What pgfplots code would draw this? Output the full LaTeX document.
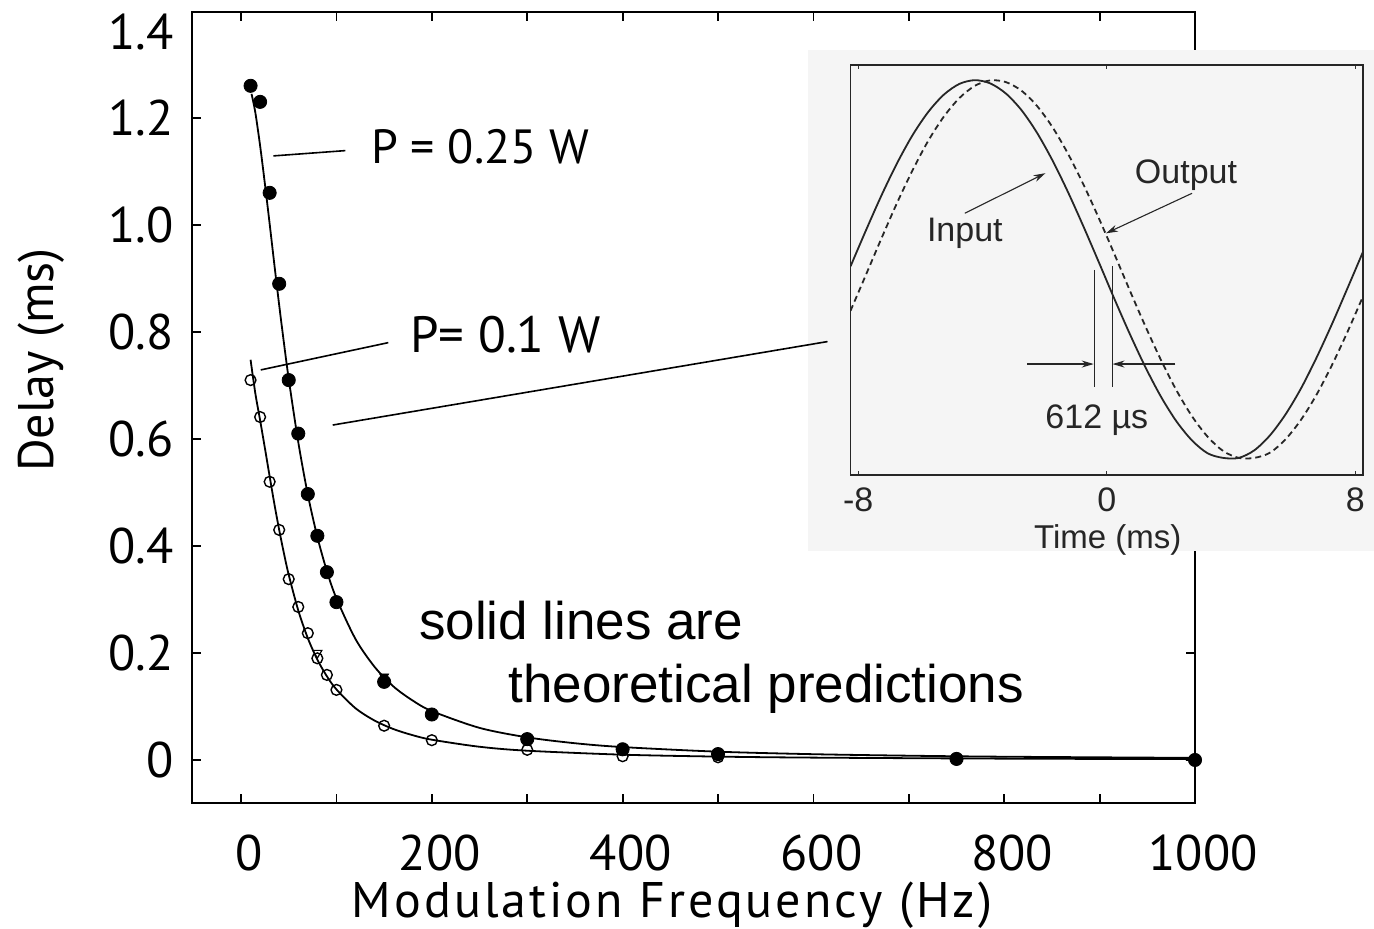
\documentclass[border=0pt]{standalone}
\usepackage{fontspec}
\setmainfont{PT Sans}
\newfontfamily\helv{Liberation Sans}
\usepackage{pgfplots}
\pgfplotsset{compat=1.18}
\usetikzlibrary{arrows.meta}

\begin{document}
\begin{tikzpicture}
\path[use as bounding box] (0pt,0pt) rectangle (687pt,464.5pt);
% main plot
\begin{axis}[
  at={(96pt,63pt)}, anchor=south west, scale only axis,
  width=501.5pt, height=395.5pt,
  xmin=-51.4, xmax=1000, ymin=-0.0804, ymax=1.398,
  axis line style={line width=1pt},
  every tick/.style={black, line width=0.9pt},
  tick align=inside, major tick length=4.5pt, minor tick length=4.5pt,
  xtick={0,200,400,600,800,1000}, minor xtick={100,300,500,700,900},
  xticklabels={0,200,400,600,800,1000},
  ytick={0,0.2,0.4,0.6,0.8,1.0,1.2},
  yticklabels={0,0.2,0.4,0.6,0.8,1.0,1.2},
  extra y ticks={1.36}, extra y tick labels={1.4},
  extra y tick style={major tick length=0pt},
  tick label style={font=\fontsize{25}{30}\selectfont, inner sep=0pt},
  xticklabel style={xshift=4pt},
  yticklabel shift=9pt, xticklabel shift=16pt,
  xlabel={\addfontfeatures{LetterSpace=6}Modulation Frequency (Hz)}, ylabel={Delay (ms)},
  label style={font=\fontsize{25}{30}\selectfont},
  xlabel style={at={(axis description cs:0.4786,-0.129)}, anchor=center},
  ylabel style={at={(axis description cs:-0.1505,0.560)}, anchor=center},
]
% theory, P = 0.25 W
\addplot[smooth, line width=0.9pt, no marks] coordinates {
(11,1.245)(15,1.21)(20,1.148)(25,1.077)(30,1.002)(35,0.925)(40,0.850)(45,0.779)
(50,0.712)(60,0.594)(70,0.496)(80,0.417)(90,0.353)(100,0.302)(120,0.226)(140,0.174)
(160,0.137)(180,0.111)(200,0.0914)(250,0.060)(300,0.0423)(350,0.0313)(400,0.0241)
(500,0.0155)(600,0.0108)(700,0.0080)(800,0.0061)(1000,0.0039)};
% theory, P = 0.1 W
\addplot[smooth, line width=0.9pt, no marks] coordinates {
(10,0.748)(15,0.685)(20,0.635)(25,0.583)(30,0.530)(35,0.478)(40,0.430)(45,0.386)
(50,0.346)(60,0.2795)(70,0.2277)(80,0.1876)(90,0.1564)(100,0.1319)(120,0.0967)
(140,0.0736)(160,0.0576)(180,0.0463)(200,0.0379)(250,0.0247)(300,0.0173)(400,0.0099)
(500,0.0063)(600,0.0044)(800,0.0025)(1000,0.0016)};
% measured, P = 0.1 W
\addplot[only marks, mark=o, mark size=2.7pt, mark options={line width=0.7pt}] coordinates {
(10,0.71)(20,0.641)(30,0.52)(40,0.43)(50,0.338)(60,0.286)(70,0.237)(80,0.19)(90,0.159)
(100,0.131)(150,0.064)(200,0.037)(300,0.019)(400,0.007)(500,0.005)(750,0.001)(1000,0.0)};
% measured, P = 0.25 W
\addplot[only marks, mark=*, mark size=3.3pt] coordinates {
(10,1.26)(20,1.23)(30,1.06)(40,0.89)(50,0.71)(60,0.61)(70,0.497)(80,0.419)(90,0.351)
(100,0.295)(150,0.146)(200,0.085)(300,0.039)(400,0.020)(500,0.011)(750,0.002)(1000,0.0)};
% triangles
\addplot[only marks, mark=triangle, mark size=2.6pt, mark options={rotate=180, line width=0.6pt}] coordinates {(80,0.2)};
\addplot[only marks, mark=triangle*, mark size=2.6pt, mark options={rotate=180}] coordinates {(150,0.156)};

\draw[line width=0.8pt] (axis cs:33.9,1.129) -- (axis cs:109.4,1.1389);
\draw[line width=0.8pt] (axis cs:20.6,0.729) -- (axis cs:154.4,0.780);
\coordinate (la) at (axis cs:96.1,0.626);
\coordinate (lb) at (axis cs:614.8,0.782);
\node[anchor=base west, inner sep=0pt, font=\fontsize{24}{28}\selectfont] at (axis cs:136,1.1153) {P = 0.25 W};
\node[anchor=base west, inner sep=0pt, font=\fontsize{25.5}{30}\selectfont] at (axis cs:177.1,0.7607) {P= 0.1 W};
\node[anchor=base west, inner sep=0pt, font=\helv\fontsize{26.5}{30}\selectfont] at (axis cs:186.3,0.2243) {solid lines are};
\node[anchor=base west, inner sep=0pt, font=\helv\fontsize{26.5}{30}\selectfont] at (axis cs:279.9,0.1065) {theoretical predictions};
\end{axis}

% inset background
\fill[black!4] (404pt,189pt) rectangle (687pt,439.5pt);
\draw[line width=0.8pt] (la) -- (lb);

\begin{axis}[
  at={(425.25pt,227pt)}, anchor=south west, scale only axis,
  width=256.25pt, height=205pt,
  xmin=-8.25, xmax=8.25, ymin=-1.08, ymax=1.08,
  axis line style={line width=0.9pt, black!85},
  every tick/.style={black!80, line width=0.6pt},
  xtick={-8,0,8}, xticklabels={-8,0,8}, ytick=\empty,
  tick align=inside, major tick length=2pt,
  tick label style={font=\helv\fontsize{17}{20}\selectfont, inner sep=0pt, text=black!85},
  xticklabel shift=6pt,
  xlabel={Time (ms)},
  xlabel style={font=\helv\fontsize{16.5}{20}\selectfont, text=black!85, at={(axis description cs:0.502,-0.1585)}, anchor=center},
]
% input
\addplot[smooth, no marks, line width=0.9pt, black!85] coordinates {
(-8.25,0.019)(-7.75,0.210)(-7.25,0.394)(-6.75,0.563)(-6.25,0.711)(-5.75,0.832)
(-5.25,0.923)(-4.75,0.980)(-4.25,1.000)(-3.75,0.983)(-3.25,0.930)(-2.75,0.843)
(-2.25,0.724)(-1.75,0.578)(-1.25,0.411)(-0.75,0.229)(-0.25,0.039)(0.25,-0.154)
(0.75,-0.340)(1.25,-0.514)(1.75,-0.669)(2.25,-0.799)(2.75,-0.899)(3.25,-0.966)
(3.75,-0.990)(4.25,-0.990)(4.75,-0.950)(5.25,-0.872)(5.75,-0.762)(6.25,-0.625)
(6.75,-0.463)(7.25,-0.285)(7.75,-0.096)(8.25,0.096)};
% output
\addplot[smooth, no marks, line width=0.9pt, black!85, dash pattern=on 3pt off 2pt] coordinates {
(-8.25,-0.215)(-7.75,-0.024)(-7.25,0.168)(-6.75,0.354)(-6.25,0.526)(-5.75,0.680)
(-5.25,0.807)(-4.75,0.905)(-4.25,0.970)(-3.75,0.999)(-3.25,0.990)(-2.75,0.945)
(-2.25,0.865)(-1.75,0.753)(-1.25,0.613)(-0.75,0.450)(-0.25,0.271)(0.25,0.082)
(0.75,-0.111)(1.25,-0.299)(1.75,-0.476)(2.25,-0.636)(2.75,-0.772)(3.25,-0.879)
(3.75,-0.954)(4.25,-0.990)(4.75,-0.990)(5.25,-0.963)(5.75,-0.893)(6.25,-0.790)
(6.75,-0.658)(7.25,-0.501)(7.75,-0.326)(8.25,-0.139)};
\draw[black!85, line width=0.55pt, -{Stealth[length=6pt,width=3.5pt]}] (axis cs:-4.57,0.299) -- (axis cs:-1.975,0.51);
\draw[black!85, line width=0.55pt, -{Stealth[length=6pt,width=3.5pt]}] (axis cs:2.745,0.404) -- (axis cs:-0.027,0.193);
\draw[black!85, line width=0.5pt] (axis cs:-0.407,0) -- (axis cs:-0.407,-0.615);
\draw[black!85, line width=0.5pt] (axis cs:0.172,0.02) -- (axis cs:0.172,-0.615);
\draw[black!85, line width=0.55pt, -{Stealth[length=6pt,width=3.5pt]}] (axis cs:-2.568,-0.4955) -- (axis cs:-0.42,-0.4955);
\draw[black!85, line width=0.55pt, -{Stealth[length=6pt,width=3.5pt]}] (axis cs:2.211,-0.4955) -- (axis cs:0.185,-0.4955);
\node[font=\helv\fontsize{17}{20}\selectfont, text=black!85] at (axis cs:2.55,0.50) {Output};
\node[font=\helv\fontsize{17}{20}\selectfont, text=black!85] at (axis cs:-4.57,0.193) {Input};
\node[font=\helv\fontsize{17}{20}\selectfont, text=black!85] at (axis cs:-0.32,-0.79) {612 µs};
\end{axis}
\end{tikzpicture}
\end{document}
